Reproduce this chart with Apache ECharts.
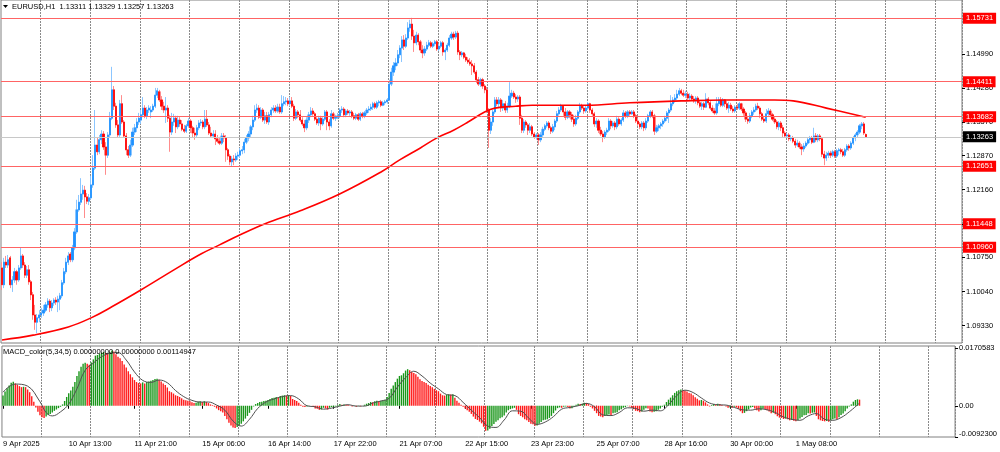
<!DOCTYPE html>
<html><head><meta charset="utf-8">
<script src="https://cdn.jsdelivr.net/npm/echarts@6/dist/echarts.min.js"></script>
<style>html,body{margin:0;padding:0;background:#fff}#c{width:1000px;height:452px}</style>
</head><body><div id="c"></div>
<script>
const symbolName = 'EURUSD,H1';
const macdTitle = 'MACD_color(5,34,5) 0.00000000 0.00000000 0.00114947';
// trading days: [label, first hour, last hour]
const days = [['9 Apr',5,23],['10 Apr',0,23],['11 Apr',0,23],['14 Apr',0,23],['15 Apr',0,23],['16 Apr',0,23],['17 Apr',0,23],['18 Apr',0,22],['21 Apr',0,23],['22 Apr',0,23],['23 Apr',0,23],['24 Apr',0,23],['25 Apr',0,23],['28 Apr',0,23],['29 Apr',0,23],['30 Apr',0,23],['1 May',0,23],['2 May',0,15]];
const xTickLabels = ['10 Apr 13:00','11 Apr 21:00','15 Apr 06:00','16 Apr 14:00','17 Apr 22:00','21 Apr 07:00','22 Apr 15:00','23 Apr 23:00','25 Apr 07:00','28 Apr 16:00','30 Apr 00:00','1 May 08:00'];
const firstLabel = '9 Apr 2025';
// hourly bars [open, high, low, close]
const ohlc = [
[1.1053,1.1065,1.1007,1.1018],[1.1018,1.1074,1.1011,1.1065],[1.1065,1.1078,1.1053,1.1059],[1.1059,1.1080,1.1053,1.1070],[1.1074,1.1078,1.1011,1.1018],
[1.1018,1.1036,1.1003,1.1028],[1.1028,1.1053,1.1022,1.1045],[1.1045,1.1049,1.1018,1.1028],[1.1028,1.1059,1.1024,1.1053],[1.1053,1.1095,1.1049,1.1078],
[1.1078,1.1082,1.1053,1.1059],[1.1059,1.1065,1.1032,1.1038],[1.1038,1.1057,1.1032,1.1049],[1.1049,1.1059,1.1018,1.1024],[1.1024,1.1028,1.0986,1.0997],
[1.0997,1.1003,1.0945,1.0955],[1.0955,1.0976,1.0924,1.0940],[1.0940,1.0957,1.0917,1.0949],[1.0949,1.0965,1.0940,1.0955],[1.0955,1.0970,1.0949,1.0959],
[1.0959,1.0976,1.0953,1.0965],[1.0965,1.0982,1.0961,1.0976],[1.0976,1.0990,1.0970,1.0984],[1.0984,1.0988,1.0961,1.0970],[1.0970,1.0986,1.0963,1.0980],
[1.0980,1.0990,1.0974,1.0986],[1.0986,1.0992,1.0976,1.0982],[1.0982,1.0995,1.0961,1.0988],[1.0988,1.1001,1.0965,1.0995],[1.0995,1.1028,1.0990,1.1022],
[1.1022,1.1053,1.1018,1.1045],[1.1045,1.1074,1.1040,1.1065],[1.1065,1.1086,1.1059,1.1078],[1.1082,1.1086,1.1065,1.1070],[1.1070,1.1101,1.1065,1.1095],
[1.1095,1.1136,1.1090,1.1128],[1.1128,1.1195,1.1124,1.1174],[1.1174,1.1205,1.1170,1.1190],[1.1190,1.1240,1.1184,1.1207],[1.1207,1.1226,1.1195,1.1215],
[1.1215,1.1224,1.1157,1.1201],[1.1201,1.1209,1.1186,1.1192],[1.1192,1.1207,1.1184,1.1199],[1.1199,1.1245,1.1195,1.1226],[1.1226,1.1288,1.1220,1.1261],
[1.1261,1.1382,1.1257,1.1309],[1.1309,1.1324,1.1288,1.1295],[1.1295,1.1330,1.1290,1.1320],[1.1320,1.1340,1.1311,1.1332],[1.1332,1.1338,1.1299,1.1305],
[1.1305,1.1315,1.1247,1.1288],[1.1288,1.1336,1.1282,1.1330],[1.1330,1.1378,1.1324,1.1365],[1.1365,1.1472,1.1361,1.1424],[1.1424,1.1432,1.1382,1.1390],
[1.1390,1.1397,1.1345,1.1351],[1.1351,1.1361,1.1324,1.1330],[1.1330,1.1403,1.1326,1.1395],[1.1395,1.1413,1.1353,1.1357],[1.1357,1.1361,1.1324,1.1328],
[1.1328,1.1334,1.1288,1.1299],[1.1299,1.1307,1.1282,1.1288],[1.1288,1.1320,1.1284,1.1309],[1.1309,1.1345,1.1305,1.1336],[1.1336,1.1353,1.1330,1.1345],
[1.1345,1.1365,1.1336,1.1357],[1.1357,1.1376,1.1351,1.1365],[1.1361,1.1382,1.1353,1.1372],[1.1372,1.1409,1.1367,1.1386],[1.1386,1.1392,1.1365,1.1370],
[1.1370,1.1388,1.1363,1.1382],[1.1382,1.1392,1.1376,1.1386],[1.1378,1.1390,1.1365,1.1382],[1.1382,1.1395,1.1378,1.1390],[1.1390,1.1428,1.1386,1.1413],
[1.1413,1.1428,1.1407,1.1422],[1.1420,1.1424,1.1399,1.1403],[1.1403,1.1411,1.1382,1.1390],[1.1390,1.1399,1.1376,1.1382],[1.1382,1.1409,1.1355,1.1386],
[1.1386,1.1392,1.1357,1.1365],[1.1365,1.1372,1.1295,1.1336],[1.1336,1.1376,1.1330,1.1357],[1.1357,1.1374,1.1349,1.1365],[1.1365,1.1370,1.1334,1.1347],
[1.1347,1.1370,1.1342,1.1361],[1.1361,1.1367,1.1347,1.1353],[1.1353,1.1361,1.1338,1.1342],[1.1342,1.1351,1.1334,1.1338],[1.1338,1.1353,1.1334,1.1349],
[1.1349,1.1365,1.1345,1.1359],[1.1359,1.1363,1.1334,1.1345],[1.1345,1.1349,1.1324,1.1334],[1.1334,1.1345,1.1320,1.1330],[1.1330,1.1351,1.1326,1.1345],
[1.1345,1.1361,1.1340,1.1355],[1.1355,1.1363,1.1349,1.1357],[1.1357,1.1361,1.1342,1.1347],[1.1347,1.1382,1.1342,1.1363],[1.1363,1.1382,1.1347,1.1351],
[1.1351,1.1357,1.1330,1.1334],[1.1334,1.1347,1.1324,1.1328],[1.1328,1.1340,1.1324,1.1332],[1.1332,1.1340,1.1309,1.1322],[1.1322,1.1330,1.1313,1.1317],
[1.1317,1.1326,1.1309,1.1313],[1.1313,1.1334,1.1309,1.1328],[1.1328,1.1334,1.1315,1.1324],[1.1324,1.1330,1.1274,1.1299],[1.1299,1.1303,1.1278,1.1286],
[1.1286,1.1290,1.1267,1.1274],[1.1274,1.1286,1.1265,1.1280],[1.1280,1.1288,1.1267,1.1278],[1.1278,1.1292,1.1274,1.1286],[1.1286,1.1295,1.1278,1.1288],
[1.1288,1.1303,1.1282,1.1297],[1.1297,1.1307,1.1290,1.1299],[1.1299,1.1322,1.1292,1.1315],[1.1315,1.1330,1.1311,1.1324],[1.1324,1.1338,1.1317,1.1332],
[1.1332,1.1351,1.1326,1.1347],[1.1347,1.1370,1.1340,1.1361],[1.1361,1.1392,1.1357,1.1382],[1.1382,1.1395,1.1376,1.1386],[1.1386,1.1392,1.1363,1.1367],
[1.1367,1.1388,1.1363,1.1382],[1.1382,1.1386,1.1357,1.1361],[1.1361,1.1378,1.1353,1.1370],[1.1370,1.1378,1.1353,1.1357],[1.1357,1.1378,1.1351,1.1372],
[1.1372,1.1388,1.1367,1.1382],[1.1382,1.1392,1.1376,1.1386],[1.1386,1.1392,1.1376,1.1380],[1.1380,1.1395,1.1376,1.1388],[1.1388,1.1395,1.1374,1.1378],
[1.1378,1.1413,1.1374,1.1395],[1.1395,1.1411,1.1390,1.1399],[1.1399,1.1409,1.1392,1.1401],[1.1401,1.1407,1.1390,1.1395],[1.1395,1.1409,1.1390,1.1401],
[1.1401,1.1409,1.1386,1.1390],[1.1390,1.1395,1.1359,1.1365],[1.1365,1.1384,1.1361,1.1378],[1.1378,1.1382,1.1365,1.1372],[1.1372,1.1382,1.1357,1.1361],
[1.1361,1.1367,1.1349,1.1353],[1.1353,1.1361,1.1336,1.1345],[1.1345,1.1367,1.1340,1.1361],[1.1361,1.1378,1.1355,1.1372],[1.1372,1.1388,1.1367,1.1380],
[1.1380,1.1386,1.1370,1.1374],[1.1374,1.1378,1.1359,1.1363],[1.1363,1.1367,1.1351,1.1355],[1.1355,1.1370,1.1349,1.1365],[1.1365,1.1370,1.1340,1.1353],
[1.1353,1.1367,1.1349,1.1363],[1.1363,1.1382,1.1359,1.1378],[1.1378,1.1382,1.1340,1.1357],[1.1357,1.1363,1.1340,1.1349],[1.1349,1.1382,1.1345,1.1374],
[1.1374,1.1378,1.1361,1.1365],[1.1365,1.1372,1.1359,1.1367],[1.1367,1.1376,1.1363,1.1370],[1.1370,1.1386,1.1365,1.1382],[1.1382,1.1390,1.1376,1.1384],
[1.1384,1.1388,1.1367,1.1372],[1.1372,1.1384,1.1367,1.1380],[1.1380,1.1384,1.1372,1.1376],[1.1376,1.1382,1.1370,1.1378],[1.1378,1.1382,1.1365,1.1370],
[1.1370,1.1376,1.1361,1.1365],[1.1365,1.1376,1.1361,1.1372],[1.1372,1.1376,1.1359,1.1363],[1.1363,1.1378,1.1359,1.1374],[1.1374,1.1378,1.1365,1.1370],
[1.1370,1.1380,1.1365,1.1376],[1.1376,1.1386,1.1372,1.1382],[1.1382,1.1390,1.1376,1.1384],[1.1384,1.1395,1.1380,1.1388],[1.1388,1.1399,1.1382,1.1395],
[1.1395,1.1399,1.1384,1.1388],[1.1388,1.1401,1.1384,1.1397],[1.1397,1.1403,1.1390,1.1399],[1.1399,1.1403,1.1388,1.1392],[1.1392,1.1401,1.1390,1.1397],
[1.1397,1.1403,1.1392,1.1399],[1.1399,1.1407,1.1395,1.1403],[1.1403,1.1445,1.1401,1.1436],[1.1436,1.1470,1.1432,1.1461],[1.1461,1.1482,1.1453,1.1474],
[1.1474,1.1490,1.1465,1.1480],[1.1480,1.1507,1.1474,1.1497],[1.1497,1.1517,1.1490,1.1511],[1.1511,1.1536,1.1482,1.1528],[1.1528,1.1538,1.1507,1.1515],
[1.1515,1.1540,1.1511,1.1532],[1.1532,1.1565,1.1528,1.1553],[1.1553,1.1570,1.1545,1.1561],[1.1561,1.1574,1.1528,1.1536],[1.1536,1.1549,1.1503,1.1522],
[1.1522,1.1545,1.1517,1.1538],[1.1538,1.1542,1.1517,1.1524],[1.1524,1.1528,1.1501,1.1507],[1.1507,1.1517,1.1490,1.1501],[1.1501,1.1515,1.1495,1.1509],
[1.1509,1.1524,1.1505,1.1517],[1.1517,1.1528,1.1513,1.1522],[1.1522,1.1526,1.1511,1.1515],[1.1515,1.1524,1.1511,1.1520],[1.1520,1.1528,1.1515,1.1524],
[1.1524,1.1528,1.1505,1.1509],[1.1509,1.1520,1.1505,1.1515],[1.1515,1.1526,1.1511,1.1522],[1.1522,1.1526,1.1495,1.1503],[1.1503,1.1511,1.1486,1.1507],
[1.1507,1.1522,1.1503,1.1517],[1.1517,1.1538,1.1513,1.1532],[1.1532,1.1545,1.1528,1.1540],[1.1540,1.1545,1.1528,1.1534],[1.1534,1.1547,1.1530,1.1542],
[1.1542,1.1547,1.1497,1.1503],[1.1503,1.1507,1.1486,1.1497],[1.1497,1.1505,1.1492,1.1501],[1.1501,1.1503,1.1488,1.1492],[1.1492,1.1499,1.1482,1.1486],
[1.1486,1.1492,1.1478,1.1482],[1.1482,1.1490,1.1474,1.1478],[1.1478,1.1486,1.1455,1.1474],[1.1474,1.1480,1.1457,1.1461],[1.1461,1.1465,1.1438,1.1445],
[1.1445,1.1451,1.1432,1.1436],[1.1436,1.1449,1.1430,1.1445],[1.1445,1.1449,1.1426,1.1432],[1.1432,1.1436,1.1417,1.1424],[1.1424,1.1430,1.1376,1.1382],
[1.1382,1.1386,1.1303,1.1340],[1.1340,1.1365,1.1332,1.1357],[1.1357,1.1382,1.1349,1.1378],[1.1378,1.1409,1.1374,1.1403],[1.1403,1.1409,1.1390,1.1395],
[1.1395,1.1409,1.1386,1.1403],[1.1403,1.1407,1.1378,1.1386],[1.1386,1.1403,1.1380,1.1395],[1.1395,1.1401,1.1376,1.1382],[1.1382,1.1397,1.1376,1.1390],
[1.1390,1.1440,1.1386,1.1411],[1.1411,1.1424,1.1407,1.1417],[1.1417,1.1422,1.1405,1.1409],[1.1409,1.1415,1.1397,1.1405],[1.1405,1.1413,1.1399,1.1409],
[1.1409,1.1413,1.1351,1.1365],[1.1365,1.1372,1.1334,1.1340],[1.1340,1.1363,1.1334,1.1357],[1.1357,1.1361,1.1345,1.1351],[1.1351,1.1355,1.1330,1.1340],
[1.1340,1.1355,1.1334,1.1347],[1.1347,1.1351,1.1328,1.1332],[1.1332,1.1336,1.1322,1.1326],[1.1326,1.1334,1.1320,1.1330],[1.1330,1.1334,1.1309,1.1320],
[1.1320,1.1336,1.1315,1.1330],[1.1330,1.1347,1.1326,1.1342],[1.1342,1.1353,1.1338,1.1349],[1.1349,1.1359,1.1345,1.1355],[1.1355,1.1359,1.1340,1.1345],
[1.1345,1.1349,1.1332,1.1338],[1.1338,1.1353,1.1334,1.1347],[1.1347,1.1363,1.1340,1.1359],[1.1359,1.1380,1.1355,1.1374],[1.1374,1.1388,1.1370,1.1382],
[1.1382,1.1395,1.1378,1.1390],[1.1390,1.1392,1.1370,1.1378],[1.1378,1.1386,1.1361,1.1367],[1.1367,1.1382,1.1363,1.1378],[1.1378,1.1382,1.1365,1.1372],
[1.1372,1.1378,1.1357,1.1363],[1.1363,1.1372,1.1347,1.1353],[1.1353,1.1372,1.1349,1.1365],[1.1365,1.1382,1.1361,1.1378],[1.1378,1.1397,1.1374,1.1390],
[1.1390,1.1395,1.1382,1.1386],[1.1386,1.1390,1.1374,1.1380],[1.1380,1.1392,1.1376,1.1386],[1.1386,1.1399,1.1382,1.1395],[1.1395,1.1397,1.1376,1.1382],
[1.1382,1.1386,1.1370,1.1374],[1.1374,1.1378,1.1347,1.1353],[1.1353,1.1365,1.1345,1.1359],[1.1359,1.1363,1.1334,1.1340],[1.1340,1.1347,1.1328,1.1332],
[1.1332,1.1338,1.1315,1.1326],[1.1326,1.1340,1.1322,1.1336],[1.1336,1.1345,1.1330,1.1340],[1.1340,1.1365,1.1336,1.1359],[1.1359,1.1363,1.1342,1.1349],
[1.1349,1.1359,1.1345,1.1355],[1.1355,1.1359,1.1340,1.1347],[1.1347,1.1370,1.1342,1.1363],[1.1363,1.1367,1.1349,1.1353],[1.1353,1.1365,1.1349,1.1361],
[1.1361,1.1382,1.1357,1.1376],[1.1376,1.1380,1.1365,1.1370],[1.1370,1.1382,1.1365,1.1378],[1.1378,1.1382,1.1370,1.1374],[1.1374,1.1382,1.1372,1.1378],
[1.1378,1.1382,1.1365,1.1370],[1.1370,1.1374,1.1355,1.1359],[1.1359,1.1365,1.1349,1.1353],[1.1353,1.1357,1.1342,1.1347],[1.1347,1.1359,1.1342,1.1355],
[1.1355,1.1359,1.1338,1.1345],[1.1345,1.1365,1.1340,1.1359],[1.1359,1.1374,1.1355,1.1370],[1.1370,1.1382,1.1365,1.1378],[1.1378,1.1382,1.1365,1.1370],
[1.1370,1.1374,1.1330,1.1338],[1.1338,1.1351,1.1334,1.1345],[1.1345,1.1353,1.1338,1.1349],[1.1349,1.1357,1.1342,1.1353],[1.1353,1.1363,1.1347,1.1359],
[1.1359,1.1370,1.1355,1.1365],[1.1365,1.1380,1.1359,1.1376],[1.1376,1.1386,1.1355,1.1382],[1.1382,1.1413,1.1378,1.1395],[1.1395,1.1409,1.1390,1.1403],
[1.1403,1.1415,1.1397,1.1407],[1.1407,1.1424,1.1403,1.1415],[1.1415,1.1428,1.1411,1.1422],[1.1422,1.1426,1.1413,1.1417],[1.1417,1.1424,1.1409,1.1413],
[1.1413,1.1422,1.1407,1.1415],[1.1415,1.1420,1.1403,1.1407],[1.1407,1.1417,1.1403,1.1411],[1.1411,1.1415,1.1401,1.1405],[1.1405,1.1411,1.1397,1.1401],
[1.1401,1.1411,1.1395,1.1407],[1.1407,1.1411,1.1392,1.1397],[1.1397,1.1403,1.1386,1.1390],[1.1390,1.1399,1.1382,1.1395],[1.1395,1.1399,1.1382,1.1388],
[1.1388,1.1417,1.1386,1.1405],[1.1405,1.1409,1.1392,1.1397],[1.1397,1.1401,1.1382,1.1386],[1.1386,1.1392,1.1376,1.1380],[1.1380,1.1386,1.1372,1.1376],
[1.1376,1.1409,1.1372,1.1395],[1.1395,1.1409,1.1390,1.1403],[1.1403,1.1409,1.1388,1.1392],[1.1392,1.1407,1.1388,1.1403],[1.1403,1.1405,1.1388,1.1395],
[1.1395,1.1401,1.1382,1.1386],[1.1386,1.1399,1.1376,1.1392],[1.1392,1.1397,1.1380,1.1384],[1.1384,1.1390,1.1376,1.1380],[1.1380,1.1392,1.1376,1.1388],
[1.1388,1.1395,1.1382,1.1386],[1.1386,1.1399,1.1382,1.1395],[1.1395,1.1397,1.1380,1.1384],[1.1384,1.1388,1.1370,1.1376],[1.1376,1.1380,1.1357,1.1363],
[1.1363,1.1370,1.1353,1.1359],[1.1359,1.1376,1.1355,1.1370],[1.1370,1.1382,1.1365,1.1378],[1.1378,1.1388,1.1372,1.1382],[1.1382,1.1395,1.1378,1.1390],
[1.1390,1.1397,1.1382,1.1386],[1.1386,1.1390,1.1365,1.1374],[1.1374,1.1378,1.1359,1.1363],[1.1363,1.1370,1.1355,1.1359],[1.1359,1.1384,1.1355,1.1374],
[1.1374,1.1386,1.1370,1.1380],[1.1380,1.1384,1.1367,1.1372],[1.1372,1.1376,1.1359,1.1363],[1.1363,1.1367,1.1353,1.1357],[1.1357,1.1361,1.1342,1.1347],
[1.1347,1.1359,1.1340,1.1355],[1.1355,1.1359,1.1338,1.1345],[1.1345,1.1351,1.1324,1.1334],[1.1334,1.1338,1.1324,1.1328],[1.1328,1.1334,1.1324,1.1330],
[1.1330,1.1334,1.1317,1.1322],[1.1322,1.1330,1.1317,1.1324],[1.1324,1.1328,1.1313,1.1317],[1.1317,1.1322,1.1303,1.1309],[1.1309,1.1320,1.1305,1.1313],
[1.1313,1.1317,1.1301,1.1305],[1.1305,1.1311,1.1288,1.1301],[1.1301,1.1313,1.1295,1.1307],[1.1307,1.1317,1.1303,1.1313],[1.1313,1.1324,1.1309,1.1320],
[1.1320,1.1328,1.1313,1.1324],[1.1324,1.1328,1.1311,1.1315],[1.1315,1.1345,1.1313,1.1328],[1.1328,1.1334,1.1315,1.1320],[1.1320,1.1332,1.1315,1.1328],
[1.1328,1.1332,1.1317,1.1322],[1.1322,1.1326,1.1284,1.1290],[1.1290,1.1297,1.1267,1.1282],[1.1282,1.1295,1.1276,1.1288],[1.1288,1.1297,1.1282,1.1292],
[1.1292,1.1297,1.1282,1.1288],[1.1288,1.1299,1.1284,1.1295],[1.1295,1.1299,1.1282,1.1286],[1.1286,1.1301,1.1282,1.1297],[1.1297,1.1303,1.1288,1.1299],
[1.1299,1.1303,1.1290,1.1295],[1.1295,1.1301,1.1284,1.1288],[1.1288,1.1303,1.1284,1.1299],[1.1299,1.1311,1.1295,1.1307],[1.1307,1.1311,1.1297,1.1303],
[1.1303,1.1317,1.1299,1.1313],[1.1313,1.1328,1.1309,1.1324],[1.1324,1.1334,1.1317,1.1330],[1.1330,1.1340,1.1324,1.1336],[1.1336,1.1353,1.1332,1.1349],
[1.1349,1.1357,1.1342,1.1353],[1.1353,1.1357,1.1330,1.1334],[1.13311,1.13329,1.13257,1.13263]
];
// moving average (read at selected bars)
const maIndex = [0,15,32,43,53,67,83,96,105,115,127,144,163,183,192,202,210,218,225,233,238,248,256,282,303,328,349,373,382,398,417];
const maValue = [1.0903,1.0913,1.0930,1.0949,1.0972,1.1007,1.1049,1.1082,1.1101,1.1122,1.1145,1.1172,1.1207,1.1253,1.1278,1.1303,1.1324,1.1340,1.1357,1.1378,1.1386,1.1390,1.1392,1.1392,1.1397,1.1401,1.1403,1.1403,1.1401,1.1386,1.1367];
// MACD histogram per bar
const macdHist = [
0.0030,0.0042,0.0052,0.0060,0.0068,0.0071,0.0066,0.0062,0.0058,0.0055,
0.0056,0.0055,0.0048,0.0040,0.0028,0.0012,-0.0005,-0.0018,-0.0028,-0.0034,
-0.0036,-0.0032,-0.0027,-0.0024,-0.0020,-0.0015,-0.0011,-0.0007,-0.0003,0.0004,
0.0014,0.0026,0.0037,0.0045,0.0056,0.0070,0.0088,0.0102,0.0115,0.0124,
0.0127,0.0124,0.0121,0.0128,0.0137,0.0148,0.0150,0.0154,0.0157,0.0159,
0.0156,0.0154,0.0158,0.0163,0.0160,0.0152,0.0145,0.0140,0.0132,0.0122,
0.0113,0.0102,0.0093,0.0084,0.0076,0.0070,0.0067,0.0066,0.0069,0.0066,
0.0070,0.0072,0.0074,0.0076,0.0079,0.0080,0.0077,0.0072,0.0066,0.0061,
0.0054,0.0043,0.0040,0.0036,0.0031,0.0029,0.0026,0.0022,0.0018,0.0016,
0.0015,0.0013,0.0010,0.0008,0.0009,0.0012,0.0013,0.0011,0.0013,0.0011,
0.0008,0.0004,0.0002,-0.0003,-0.0008,-0.0013,-0.0016,-0.0020,-0.0030,-0.0040,
-0.0050,-0.0058,-0.0064,-0.0066,-0.0063,-0.0058,-0.0053,-0.0046,-0.0038,-0.0030,
-0.0021,-0.0012,-0.0002,0.0005,0.0008,0.0011,0.0012,0.0014,0.0015,0.0017,
0.0020,0.0023,0.0024,0.0026,0.0025,0.0029,0.0030,0.0031,0.0030,0.0031,
0.0029,0.0020,0.0017,0.0014,0.0009,0.0003,-0.0003,-0.0004,-0.0002,0.0001,
0.0000,-0.0003,-0.0008,-0.0009,-0.0012,-0.0011,-0.0006,-0.0008,-0.0011,-0.0006,
-0.0004,-0.0003,-0.0002,0.0002,0.0005,0.0003,0.0004,0.0003,0.0003,0.0001,
-0.0002,-0.0001,-0.0003,-0.0001,-0.0002,0.0000,0.0003,0.0006,0.0008,0.0011,
0.0010,0.0013,0.0015,0.0014,0.0015,0.0016,0.0018,0.0026,0.0038,0.0050,
0.0060,0.0070,0.0080,0.0088,0.0090,0.0096,0.0104,0.0108,0.0105,0.0100,
0.0097,0.0093,0.0086,0.0078,0.0073,0.0070,0.0067,0.0062,0.0058,0.0055,
0.0050,0.0046,0.0043,0.0036,0.0031,0.0030,0.0032,0.0034,0.0033,0.0034,
0.0024,0.0015,0.0009,0.0003,-0.0003,-0.0008,-0.0013,-0.0018,-0.0024,-0.0032,
-0.0039,-0.0042,-0.0047,-0.0052,-0.0062,-0.0074,-0.0073,-0.0068,-0.0060,-0.0054,
-0.0047,-0.0043,-0.0037,-0.0034,-0.0029,-0.0020,-0.0013,-0.0010,-0.0008,-0.0006,
-0.0012,-0.0025,-0.0030,-0.0034,-0.0040,-0.0043,-0.0048,-0.0053,-0.0055,-0.0059,
-0.0058,-0.0053,-0.0048,-0.0043,-0.0041,-0.0040,-0.0036,-0.0030,-0.0022,-0.0014,
-0.0007,-0.0005,-0.0006,-0.0003,-0.0002,-0.0004,-0.0008,-0.0007,-0.0003,0.0003,
0.0006,0.0005,0.0006,0.0009,0.0008,0.0005,-0.0003,-0.0008,-0.0015,-0.0022,
-0.0030,-0.0032,-0.0034,-0.0030,-0.0029,-0.0026,-0.0027,-0.0022,-0.0021,-0.0019,
-0.0013,-0.0010,-0.0006,-0.0004,-0.0001,-0.0002,-0.0006,-0.0010,-0.0015,-0.0016,
-0.0019,-0.0017,-0.0012,-0.0007,-0.0008,-0.0017,-0.0019,-0.0018,-0.0016,-0.0012,
-0.0008,-0.0003,0.0003,0.0011,0.0018,0.0024,0.0031,0.0038,0.0043,0.0046,
0.0048,0.0046,0.0045,0.0042,0.0038,0.0036,0.0031,0.0025,0.0021,0.0016,
0.0017,0.0015,0.0010,0.0004,-0.0002,0.0002,0.0005,0.0004,0.0006,0.0005,
0.0002,0.0001,-0.0002,-0.0006,-0.0005,-0.0006,-0.0003,-0.0005,-0.0009,-0.0016,
-0.0022,-0.0021,-0.0016,-0.0011,-0.0005,-0.0004,-0.0008,-0.0013,-0.0017,-0.0013,
-0.0009,-0.0010,-0.0013,-0.0017,-0.0022,-0.0021,-0.0025,-0.0031,-0.0035,-0.0036,
-0.0039,-0.0038,-0.0040,-0.0043,-0.0042,-0.0044,-0.0046,-0.0043,-0.0038,-0.0033,
-0.0028,-0.0027,-0.0022,-0.0023,-0.0021,-0.0020,-0.0030,-0.0040,-0.0043,-0.0045,
-0.0046,-0.0045,-0.0047,-0.0043,-0.0040,-0.0038,-0.0039,-0.0034,-0.0027,-0.0023,
-0.0016,-0.0008,-0.0002,0.0004,0.0012,0.0017,0.0019,0.0018
];
// MACD signal line (read at selected bars)
const sigIndex = [0,6,12,18,21,24,28,32,36,40,44,48,52,56,60,64,68,72,76,80,84,88,92,96,100,104,108,112,116,120,124,128,132,136,140,144,148,152,156,160,164,168,172,176,180,184,188,192,196,200,204,208,212,216,220,224,228,232,236,240,244,248,252,256,260,264,268,272,276,280,284,288,292,296,300,304,308,312,316,320,324,328,332,336,340,344,348,352,356,360,364,368,372,376,380,384,388,392,396,400,404,408,412,417];
const sigValue = [0.0040,0.0064,0.0058,0.0012,-0.0020,-0.0030,-0.0018,0.0005,0.0050,0.0105,0.0126,0.0145,0.0155,0.0157,0.0135,0.0100,0.0075,0.0069,0.0076,0.0068,0.0045,0.0027,0.0016,0.0011,0.0011,0.0002,-0.0013,-0.0045,-0.0060,-0.0040,-0.0008,0.0011,0.0020,0.0027,0.0030,0.0020,0.0000,-0.0003,-0.0010,-0.0007,-0.0001,0.0003,-0.0001,-0.0001,0.0008,0.0014,0.0022,0.0055,0.0083,0.0102,0.0088,0.0067,0.0050,0.0033,0.0030,0.0010,-0.0013,-0.0035,-0.0060,-0.0064,-0.0042,-0.0015,-0.0016,-0.0037,-0.0055,-0.0048,-0.0032,-0.0010,-0.0005,0.0000,0.0007,-0.0003,-0.0027,-0.0029,-0.0020,-0.0006,-0.0008,-0.0016,-0.0013,-0.0015,0.0003,0.0030,0.0046,0.0039,0.0023,0.0008,0.0003,0.0002,-0.0005,-0.0012,-0.0013,-0.0009,-0.0012,-0.0020,-0.0033,-0.0040,-0.0043,-0.0030,-0.0023,-0.0040,-0.0043,-0.0035,-0.0018,0.0008];
const priceTicks = [1.09330,1.10040,1.10750,1.11450,1.12160,1.12870,1.13570,1.14280,1.14990];
const levelLines = [1.15731,1.14411,1.13682,1.12651,1.11448,1.10960];
const macdTicks = [0.0170583,0,-0.00923];
const macdTickText = ['0.0170583','0.00','-0.0092300'];

const FONT = 'Liberation Sans, Arial, sans-serif';
const FS = 7.5;
const SLOTS = 464;
const cats = [];
days.forEach(([d,h0,h1]) => { for (let h=h0; h<=h1; h++) cats.push(d+' '+String(h).padStart(2,'0')+':00'); });
while (cats.length < SLOTS) cats.push('');
const labelSet = new Set(xTickLabels);
const isLabel = (i,v) => i === 0 || labelSet.has(v);
const isGrid = (i) => i >= 19 && (i-19) % 24 === 0;

const sparse = (idx, val) => { const a = new Array(ohlc.length).fill(null); idx.forEach((k,j)=>{a[k]=val[j];}); return a; };
const last = ohlc[ohlc.length-1];
const lastPrice = last[3];

const chart = echarts.init(document.getElementById('c'), null, {renderer:'canvas'});
const xBase = (gi, showLabels) => ({
  type:'category', gridIndex: gi, data: cats, boundaryGap: true,
  axisLine:{show:false},
  axisTick:{show: showLabels, interval: isLabel, alignWithLabel:true, length:3, lineStyle:{color:'#000'}},
  axisLabel:{show: showLabels, interval: isLabel, formatter:(v,i)=> i===0 ? firstLabel : v, align:'left', margin:3, fontSize:FS, fontFamily:FONT, color:'#000'},
  splitLine:{show:true, interval: isGrid, lineStyle:{color:'#8a8a8a', type:[2,1], width:1}}
});
chart.setOption({
  animation:false,
  backgroundColor:'#fff',
  grid:[
    {left:1, top:0, width:961, height:343, show:true, borderColor:'#808080', borderWidth:1, backgroundColor:'#fff'},
    {left:1, top:346, width:961, height:91, show:true, borderColor:'#808080', borderWidth:1, backgroundColor:'#fff'}
  ],
  xAxis:[xBase(0,false), xBase(1,true)],
  yAxis:[
    {type:'value', gridIndex:0, position:'right', min:1.089662, max:1.16112, scale:true,
     axisLine:{show:false}, splitLine:{show:false},
     axisTick:{show:true, customValues: priceTicks, length:3, lineStyle:{color:'#000'}},
     axisLabel:{show:true, customValues: priceTicks.filter(v=>v!==1.11450), formatter:v=>v.toFixed(5), margin:4, fontSize:FS, fontFamily:FONT, color:'#000'}},
    {type:'value', gridIndex:1, position:'right', min:-0.00923, max:0.017653,
     axisLine:{show:false}, splitLine:{show:false},
     axisTick:{show:true, customValues: macdTicks, length:3, lineStyle:{color:'#000'}},
     axisLabel:{show:true, customValues: macdTicks, margin:4, fontSize:FS, fontFamily:FONT, color:'#000',
       formatter:(v)=>{ const k = macdTicks.findIndex(t=>Math.abs(t-v)<1e-9); const t = macdTickText[k<0?1:k]; return k===2 ? '{b|'+t+'}' : t; },
       rich:{b:{fontSize:FS, fontFamily:FONT, color:'#000', padding:[0,0,7,0]}}}}
  ],
  series:[
    {name:'wicks', type:'candlestick', xAxisIndex:0, yAxisIndex:0, barWidth:1.7, z:3,
     data: ohlc.map(r=>[r[0],r[3],r[2],r[1]]),
     itemStyle:{color:'#8cc6ff', color0:'#ff8c8c', borderColor:'#8cc6ff', borderColor0:'#ff8c8c', borderWidth:1},
     markLine:{silent:true, symbol:['none','none'], precision:5, animation:false, z:10,
       label:{show:true, position:'end', distance:1, formatter:p=>Number(p.value).toFixed(5), color:'#fff', fontSize:FS, fontFamily:FONT, padding:[2,3,1,3]},
       data:[
         ...levelLines.map(v=>({yAxis:v, lineStyle:{color:'#ff6464', width:1, type:'solid'}, label:{backgroundColor:'#ff0000'}})),
         {yAxis:lastPrice, lineStyle:{color:'#c8c8c8', width:1, type:'solid'}, label:{backgroundColor:'#000000'}}
       ]}},
    {name:'bodies', type:'candlestick', xAxisIndex:0, yAxisIndex:0, barWidth:1.6, z:4,
     data: ohlc.map(r=>[r[0],r[3],Math.min(r[0],r[3]),Math.max(r[0],r[3])]),
     itemStyle:{color:'#1e90ff', color0:'#ff0000', borderColor:'#1e90ff', borderColor0:'#ff0000', borderWidth:0.7}},
    {name:'MA', type:'line', xAxisIndex:0, yAxisIndex:0, z:5, data: sparse(maIndex, maValue), connectNulls:true, smooth:0.4,
     showSymbol:false, symbol:'none', lineStyle:{color:'#ff0000', width:1.6}},
    {name:'MACD', type:'bar', xAxisIndex:1, yAxisIndex:1, barWidth:1.4, z:3,
     data: macdHist.map((v,i)=>({value:v, itemStyle:{color: (i===0 || v>macdHist[i-1]) ? '#1a961a' : '#ff1a1a'}}))},
    {name:'Signal', type:'line', xAxisIndex:1, yAxisIndex:1, z:5, data: sparse(sigIndex, sigValue), connectNulls:true, smooth:0.4,
     showSymbol:false, symbol:'none', lineStyle:{color:'#505050', width:1}}
  ],
  graphic:[
    {type:'polygon', shape:{points:[[3,5],[8,5],[5.5,8]]}, style:{fill:'#000'}, z:20},
    {type:'text', left:12, top:2.5, z:20, style:{text: symbolName+'  '+last.map(v=>v.toFixed(5)).join(' '), fontSize:FS, fontFamily:FONT, fill:'#000'}},
    {type:'text', left:3, top:347.5, z:20, style:{text: macdTitle, fontSize:FS, fontFamily:FONT, fill:'#000'}}
  ]
});
</script>
</body></html>
